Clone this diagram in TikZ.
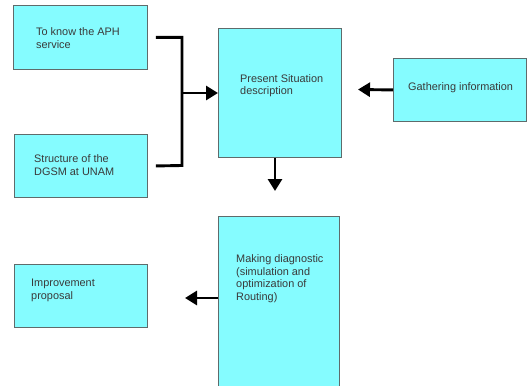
\documentclass[tikz,border=0pt]{standalone}
\usepackage{fontspec}
\setmainfont{Liberation Sans}
\usetikzlibrary{arrows.meta}
\definecolor{boxfill}{HTML}{85FCFF}
\definecolor{boxline}{HTML}{5F6B6B}
\definecolor{txt}{HTML}{3A3A3A}
\tikzset{
  box/.style={draw=boxline, fill=boxfill, line width=0.9pt, rectangle, inner sep=0pt, anchor=north west},
  lbl/.style={anchor=north west, inner sep=0pt, align=left, text=txt, font=\fontsize{10.9}{12.9}\selectfont},
  conn/.style={line width=2.9pt, black},
  arr/.style={conn, -{Triangle[length=12pt,width=14pt]}}
}
\begin{document}
\begin{tikzpicture}[x=1pt,y=-1pt]
\useasboundingbox (0,0) rectangle (529,385);
\clip (0,0) rectangle (529,385);
\fill[white] (0,0) rectangle (529,385);
% boxes
\node[box, minimum width=134pt, minimum height=64pt] (b1) at (13,5) {};
\node[box, minimum width=133pt, minimum height=63pt] (b2) at (14,134) {};
\node[box, minimum width=123pt, minimum height=129pt] (b3) at (218,28) {};
\node[box, minimum width=133pt, minimum height=63pt] (b4) at (393,58) {};
\node[box, minimum width=121pt, minimum height=180pt] (b5) at (218,216) {};
\node[box, minimum width=133pt, minimum height=63pt] (b6) at (14,264) {};
% texts
\node[lbl] (t1) at (36,27.5) {To know the APH\\service};
\node[lbl] (t2) at (34,154) {Structure of the\\DGSM at UNAM};
\node[lbl] (t3) at (240,74) {Present Situation\\description};
\node[lbl] (t4) at (408,82) {Gathering information};
\node[lbl] (t5) at (236,254) {Making diagnostic\\(simulation and\\optimization of\\Routing)};
\node[lbl] (t6) at (31,279) {Improvement\\proposal};
% connectors
\coordinate (j) at (182,93);
\coordinate (g) at (358,89.5);
\coordinate (d) at (275,191);
\coordinate (p) at (185,298);
\draw[conn, line join=miter] ([xshift=8pt]b1.east) -| (182,165.5) -- ([xshift=8pt]b2.east);
\draw[arr] (j) -- (j -| b3.west);
\draw[arr] (b4.west) -- (g);
\draw[arr] (d |- b3.south) -- (d);
\draw[arr] (p -| b5.west) -- (p);
\end{tikzpicture}
\end{document}
